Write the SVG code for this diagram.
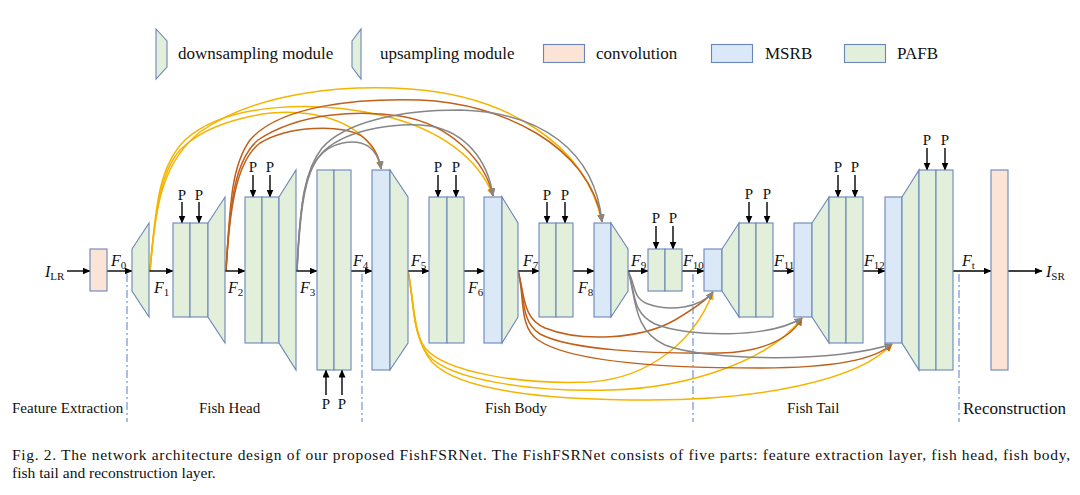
<svg xmlns="http://www.w3.org/2000/svg" width="1080" height="495" viewBox="0 0 1080 495">
<style>
.g{fill:#E2EFDA;stroke:#6A86B8;stroke-width:1.1}
.m{fill:#DAE8F8;stroke:#6A86B8;stroke-width:1.1}
.c{fill:#FBE3D6;stroke:#6A86B8;stroke-width:1.1}
.ar{stroke:#000;stroke-width:1.4;fill:none;marker-end:url(#ak)}
.dd{stroke:#8FAADC;stroke-width:1.5;stroke-dasharray:8 3 2 3;fill:none}
.y{stroke:#F5B400;stroke-width:1.5;fill:none;marker-end:url(#ay)}
.b{stroke:#C0601A;stroke-width:1.5;fill:none;marker-end:url(#ab)}
.gr{stroke:#868686;stroke-width:1.5;fill:none;marker-end:url(#ag)}
.t{font-family:"Liberation Serif","Times New Roman",serif;fill:#111}
.leg{font-size:17px}
.sec{font-size:15px}
.p{font-size:15px}
.fl{font-family:"Liberation Serif","Times New Roman",serif;font-style:italic;font-size:16px;fill:#111}
.sub{font-style:normal;font-size:11px}
.cap{font-size:15.5px}
</style>
<defs>
<marker id="ak" markerUnits="userSpaceOnUse" markerWidth="8" markerHeight="7" refX="7.5" refY="3.5" orient="auto"><path d="M0,0 L8,3.5 L0,7 z" fill="#000"/></marker>
<marker id="ay" markerUnits="userSpaceOnUse" markerWidth="8" markerHeight="7" refX="7.5" refY="3.5" orient="auto"><path d="M0,0 L8,3.5 L0,7 z" fill="#F5B400"/></marker>
<marker id="ab" markerUnits="userSpaceOnUse" markerWidth="8" markerHeight="7" refX="7.5" refY="3.5" orient="auto"><path d="M0,0 L8,3.5 L0,7 z" fill="#C0601A"/></marker>
<marker id="ag" markerUnits="userSpaceOnUse" markerWidth="8" markerHeight="7" refX="7.5" refY="3.5" orient="auto"><path d="M0,0 L8,3.5 L0,7 z" fill="#868686"/></marker>
</defs>
<rect width="1080" height="495" fill="#fff"/>

<g id="legend">
<polygon class="g" points="156,29 167,41 167,67 156,79"/>
<text class="t leg" x="178" y="59">downsampling module</text>
<polygon class="g" points="352,41 361,29 361,79 352,67"/>
<text class="t leg" x="380" y="59">upsampling module</text>
<rect class="c" x="543.5" y="44.5" width="41" height="18"/>
<text class="t leg" x="596" y="59">convolution</text>
<rect class="m" x="711.5" y="44.5" width="41" height="18"/>
<text class="t leg" x="765" y="59">MSRB</text>
<rect class="g" x="844.5" y="44.5" width="41" height="18"/>
<text class="t leg" x="897" y="59">PAFB</text>
</g>

<g id="section-lines">
<line class="dd" x1="127" y1="274" x2="127" y2="422"/>
<line class="dd" x1="362" y1="274" x2="362" y2="422"/>
<line class="dd" x1="693" y1="274" x2="693" y2="422"/>
<line class="dd" x1="959" y1="274" x2="959" y2="422"/>
</g>

<g id="connectors">
<path class="y" d="M150,271 C155,200 165,160 200,132 C260,90 350,85 410,89 C500,95 585,140 602,222"/>
<path class="y" d="M150,271 C156,200 160,165 185,140 C230,100 320,102 380,115 C440,128 480,160 493,196"/>
<path class="y" d="M150,271 C156,205 162,170 180,150 C210,120 270,108 310,114 C350,120 375,140 381,169"/>
<path class="b" d="M226,271 C230,200 232,165 250,140 C280,105 360,98 420,100 C500,103 590,145 602,222"/>
<path class="b" d="M226,271 C230,200 235,160 258,140 C300,112 360,110 400,116 C450,124 485,160 493,196"/>
<path class="b" d="M226,271 C230,200 238,160 260,143 C290,125 340,125 360,135 C372,143 379,155 381,169"/>
<path class="gr" d="M297,271 C300,200 305,170 322,148 C345,122 400,110 460,110 C540,112 595,150 602,222"/>
<path class="gr" d="M297,271 C300,200 305,168 325,150 C350,128 400,122 430,126 C465,132 488,160 493,196"/>
<path class="gr" d="M297,271 C300,210 305,175 318,158 C330,142 355,138 368,146 C376,152 380,160 381,169"/>

<path class="y" d="M408,271 C414,300 412,330 425,348 C445,372 520,385 590,382 C650,378 695,340 713,292"/>
<path class="y" d="M408,271 C414,300 412,335 428,355 C450,380 530,392 610,390 C690,388 770,360 802,318"/>
<path class="y" d="M408,271 C414,300 413,340 432,362 C460,392 550,400 650,400 C760,400 860,380 892,344"/>
<path class="b" d="M518,271 C525,295 522,318 545,328 C580,342 640,340 675,320 C695,308 707,300 713,292"/>
<path class="b" d="M518,271 C525,295 520,322 540,334 C570,350 650,354 720,353 C760,352 790,340 802,318"/>
<path class="b" d="M518,271 C525,295 518,326 538,340 C570,362 660,368 760,368 C830,368 875,360 892,344"/>
<path class="gr" d="M628,271 C636,285 632,298 648,304 C670,312 700,308 713,292"/>
<path class="gr" d="M628,271 C636,290 630,312 655,324 C690,338 770,338 802,318"/>
<path class="gr" d="M628,271 C636,295 632,330 665,345 C710,362 840,362 892,344"/>

<line class="ar" x1="67" y1="271" x2="90" y2="271"/>
<line class="ar" x1="107" y1="271" x2="132" y2="271"/>
<line class="ar" x1="149" y1="271" x2="173" y2="271"/>
<line class="ar" x1="225" y1="271" x2="245" y2="271"/>
<line class="ar" x1="296" y1="271" x2="317" y2="271"/>
<line class="ar" x1="351" y1="271" x2="372" y2="271"/>
<line class="ar" x1="408" y1="271" x2="429" y2="271"/>
<line class="ar" x1="464" y1="271" x2="484" y2="271"/>
<line class="ar" x1="518" y1="271" x2="539" y2="271"/>
<line class="ar" x1="573" y1="271" x2="594" y2="271"/>
<line class="ar" x1="628" y1="271" x2="648" y2="271"/>
<line class="ar" x1="682" y1="271" x2="704" y2="271"/>
<line class="ar" x1="773" y1="271" x2="794" y2="271"/>
<line class="ar" x1="863" y1="271" x2="885" y2="271"/>
<line class="ar" x1="953" y1="271" x2="991" y2="271"/>
<line class="ar" x1="1008" y1="271" x2="1042" y2="271"/>

<line class="ar" x1="182" y1="202" x2="182" y2="223"/>
<line class="ar" x1="199" y1="202" x2="199" y2="223"/>
<line class="ar" x1="253" y1="175" x2="253" y2="197"/>
<line class="ar" x1="270" y1="175" x2="270" y2="197"/>
<line class="ar" x1="326" y1="395" x2="326" y2="370"/>
<line class="ar" x1="342" y1="395" x2="342" y2="370"/>
<line class="ar" x1="438" y1="175" x2="438" y2="197"/>
<line class="ar" x1="456" y1="175" x2="456" y2="197"/>
<line class="ar" x1="547" y1="202" x2="547" y2="223"/>
<line class="ar" x1="565" y1="202" x2="565" y2="223"/>
<line class="ar" x1="656" y1="226" x2="656" y2="249"/>
<line class="ar" x1="673" y1="226" x2="673" y2="249"/>
<line class="ar" x1="749" y1="202" x2="749" y2="223"/>
<line class="ar" x1="767" y1="202" x2="767" y2="223"/>
<line class="ar" x1="838" y1="175" x2="838" y2="197"/>
<line class="ar" x1="855" y1="175" x2="855" y2="197"/>
<line class="ar" x1="927" y1="148" x2="927" y2="170"/>
<line class="ar" x1="945" y1="148" x2="945" y2="170"/>
</g>

<g id="conv-in"><rect class="c" x="90" y="249" width="17" height="42"/></g>
<g id="up1"><polygon class="g" points="132,249 149,223 149,317 132,291"/></g>
<g id="head1">
<rect class="g" x="173" y="223" width="17" height="94"/><rect class="g" x="190" y="223" width="18" height="94"/>
<polygon class="g" points="208,223 225,197 225,343 208,317"/>
</g>
<g id="head2">
<rect class="g" x="245" y="197" width="17" height="146"/><rect class="g" x="262" y="197" width="17" height="146"/>
<polygon class="g" points="279,197 296,170 296,370 279,343"/>
</g>
<g id="head3">
<rect class="g" x="317" y="170" width="17" height="200"/><rect class="g" x="334" y="170" width="17" height="200"/>
</g>
<g id="body4">
<rect class="m" x="372" y="170" width="18" height="200"/>
<polygon class="g" points="390,170 408,197 408,343 390,370"/>
</g>
<g id="body5">
<rect class="g" x="429" y="197" width="18" height="146"/><rect class="g" x="447" y="197" width="17" height="146"/>
</g>
<g id="body6">
<rect class="m" x="484" y="197" width="18" height="146"/>
<polygon class="g" points="502,197 518,223 518,317 502,343"/>
</g>
<g id="body7">
<rect class="g" x="539" y="223" width="17" height="94"/><rect class="g" x="556" y="223" width="17" height="94"/>
</g>
<g id="body8">
<rect class="m" x="594" y="223" width="17" height="94"/>
<polygon class="g" points="611,223 628,249 628,291 611,317"/>
</g>
<g id="body9">
<rect class="g" x="648" y="249" width="17" height="42"/><rect class="g" x="665" y="249" width="17" height="42"/>
</g>
<g id="tail10">
<rect class="m" x="704" y="249" width="18" height="42"/>
<polygon class="g" points="722,249 739,223 739,317 722,291"/>
<rect class="g" x="739" y="223" width="17" height="94"/><rect class="g" x="756" y="223" width="17" height="94"/>
</g>
<g id="tail11">
<rect class="m" x="794" y="223" width="18" height="94"/>
<polygon class="g" points="812,223 829,197 829,343 812,317"/>
<rect class="g" x="829" y="197" width="17" height="146"/><rect class="g" x="846" y="197" width="17" height="146"/>
</g>
<g id="tail12">
<rect class="m" x="885" y="197" width="17" height="146"/>
<polygon class="g" points="902,197 919,170 919,370 902,343"/>
<rect class="g" x="919" y="170" width="17" height="200"/><rect class="g" x="936" y="170" width="17" height="200"/>
</g>
<g id="conv-out"><rect class="c" x="991" y="170" width="17" height="200"/></g>

<g id="p-labels">
<text class="t p" x="182" y="200" text-anchor="middle">P</text><text class="t p" x="199" y="200" text-anchor="middle">P</text>
<text class="t p" x="253" y="172" text-anchor="middle">P</text><text class="t p" x="270" y="172" text-anchor="middle">P</text>
<text class="t p" x="326" y="409" text-anchor="middle">P</text><text class="t p" x="342" y="409" text-anchor="middle">P</text>
<text class="t p" x="438" y="172" text-anchor="middle">P</text><text class="t p" x="456" y="172" text-anchor="middle">P</text>
<text class="t p" x="547" y="200" text-anchor="middle">P</text><text class="t p" x="565" y="200" text-anchor="middle">P</text>
<text class="t p" x="656" y="223" text-anchor="middle">P</text><text class="t p" x="673" y="223" text-anchor="middle">P</text>
<text class="t p" x="749" y="199" text-anchor="middle">P</text><text class="t p" x="767" y="199" text-anchor="middle">P</text>
<text class="t p" x="838" y="172" text-anchor="middle">P</text><text class="t p" x="855" y="172" text-anchor="middle">P</text>
<text class="t p" x="927" y="145" text-anchor="middle">P</text><text class="t p" x="945" y="145" text-anchor="middle">P</text>
</g>

<g id="f-labels">
<text class="fl" x="45" y="277">I<tspan class="sub" dy="3">LR</tspan></text>
<text class="fl" x="111" y="266">F<tspan class="sub" dy="3">0</tspan></text>
<text class="fl" x="154" y="293">F<tspan class="sub" dy="3">1</tspan></text>
<text class="fl" x="228" y="293">F<tspan class="sub" dy="3">2</tspan></text>
<text class="fl" x="300" y="293">F<tspan class="sub" dy="3">3</tspan></text>
<text class="fl" x="353" y="266">F<tspan class="sub" dy="3">4</tspan></text>
<text class="fl" x="411" y="266">F<tspan class="sub" dy="3">5</tspan></text>
<text class="fl" x="468" y="293">F<tspan class="sub" dy="3">6</tspan></text>
<text class="fl" x="523" y="266">F<tspan class="sub" dy="3">7</tspan></text>
<text class="fl" x="578" y="293">F<tspan class="sub" dy="3">8</tspan></text>
<text class="fl" x="631" y="266">F<tspan class="sub" dy="3">9</tspan></text>
<text class="fl" x="683" y="266">F<tspan class="sub" dy="3">10</tspan></text>
<text class="fl" x="774" y="266">F<tspan class="sub" dy="3">11</tspan></text>
<text class="fl" x="864" y="266">F<tspan class="sub" dy="3">12</tspan></text>
<text class="fl" x="962" y="266">F<tspan class="sub" dy="3">t</tspan></text>
<text class="fl" x="1046" y="277">I<tspan class="sub" dy="3">SR</tspan></text>
</g>

<g id="sections">
<text class="t sec" x="12" y="413">Feature Extraction</text>
<text class="t sec" x="199" y="413">Fish Head</text>
<text class="t sec" x="485" y="413">Fish Body</text>
<text class="t sec" x="787" y="413">Fish Tail</text>
<text class="t" x="963" y="414" font-size="17">Reconstruction</text>
</g>

<g id="caption">
<text class="t cap" x="12" y="460" textLength="1058" lengthAdjust="spacing">Fig. 2.  The network architecture design of our proposed FishFSRNet. The FishFSRNet consists of five parts: feature extraction layer, fish head, fish body,</text>
<text class="t cap" x="12" y="478">fish tail and reconstruction layer.</text>
</g>
</svg>
